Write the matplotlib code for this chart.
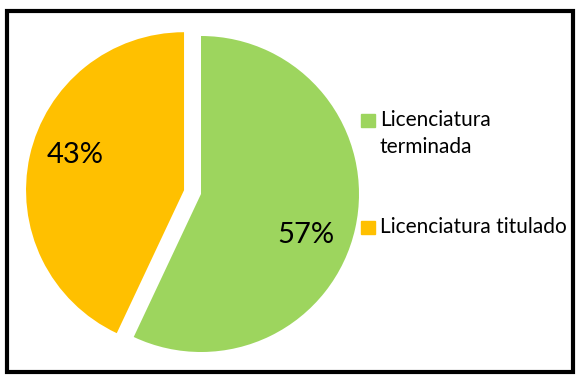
import matplotlib
matplotlib.use("Agg")
import matplotlib.pyplot as plt
from matplotlib.patches import Rectangle

plt.rcParams['font.family'] = ['Lato', 'DejaVu Sans']

# datos
labels = ["Licenciatura\nterminada", "Licenciatura titulado"]
values = [57, 43]
colors = ["#9DD55E", "#FFC000"]

W, H = 578, 380
fig = plt.figure(figsize=(W / 100, H / 100), dpi=100)
ax = fig.add_axes([0, 0, 1, 1])

# centro del pie en pixeles y radio
cx, cy, r = 201, 194, 158

wedges, texts, autos = ax.pie(values, colors=colors, startangle=90, counterclock=False,
                              explode=[0, 0.11], autopct="%1.0f%%", pctdistance=0.7,
                              textprops={"fontsize": 21, "color": "black"},
                              wedgeprops={"linewidth": 0})
ax.set_xlim(-cx / r, (W - cx) / r)
ax.set_ylim(-(H - cy) / r, cy / r)
ax.set_aspect("auto")
ax.axis("off")

# ajustar etiquetas como en Excel
autos[0].set_position((0.665, -0.259))
autos[1].set_position((-0.797, 0.247))

# leyenda manual
ys = [120, 227]
for lab, col, y in zip(labels, colors, ys):
    fig.patches.append(Rectangle((361 / W, 1 - (y + 7) / H), 14 / W, 13 / H,
                                 transform=fig.transFigure, color=col))
    fig.text(380 / W, 1 - (y - 10) / H, lab, fontsize=15, va="top", ha="left",
             linespacing=1.45)

# marco
fig.patches.append(Rectangle((7 / W, 1 - 372 / H), 566 / W, 361 / H, transform=fig.transFigure,
                             fill=False, edgecolor="black", linewidth=3))

fig.savefig("out.png", dpi=100)
